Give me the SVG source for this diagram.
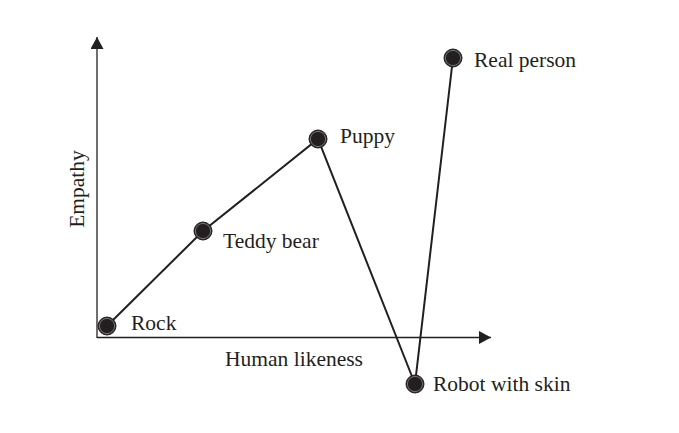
<svg xmlns="http://www.w3.org/2000/svg" width="679" height="433" viewBox="0 0 679 433">
<style>
text{font-family:"Liberation Serif","Times New Roman",serif;font-size:21.5px;fill:#231f20}
.axis{stroke:#231f20;stroke-width:1.3;fill:none}
.edge{stroke:#231f20;stroke-width:2;fill:none}
.dot{fill:#231f20;stroke:#231f20;stroke-width:1}
.ring{fill:none;stroke:#8a8a8a;stroke-width:0.8}
</style>
<defs>
<marker id="ah" viewBox="0 0 12 13" refX="12" refY="6.5" markerWidth="12" markerHeight="13" markerUnits="userSpaceOnUse" orient="auto">
<path d="M0,0 L12,6.5 L0,13 Z" fill="#231f20"/>
</marker>
</defs>
<rect width="679" height="433" fill="#fff"/>
<g id="axes">
<path class="axis" d="M97,338 V37" marker-end="url(#ah)"/>
<path class="axis" d="M97,337.5 H491" marker-end="url(#ah)"/>
<text x="0" y="0" transform="translate(84,189) rotate(-90)" text-anchor="middle">Empathy</text>
<text x="294" y="366" text-anchor="middle">Human likeness</text>
</g>
<g id="connectors">
<polyline class="edge" points="107,326 203,231 318,139 415,384 453,58"/>
</g>
<g id="rock"><circle class="dot" cx="107" cy="326" r="9"/><circle class="ring" cx="107" cy="326" r="7.6"/><text x="131" y="330">Rock</text></g>
<g id="teddy"><circle class="dot" cx="203" cy="231" r="9"/><circle class="ring" cx="203" cy="231" r="7.6"/><text x="223" y="248">Teddy bear</text></g>
<g id="puppy"><circle class="dot" cx="318" cy="139" r="9"/><circle class="ring" cx="318" cy="139" r="7.6"/><text x="340" y="143">Puppy</text></g>
<g id="robot"><circle class="dot" cx="415" cy="384" r="9"/><circle class="ring" cx="415" cy="384" r="7.6"/><text x="433" y="391">Robot with skin</text></g>
<g id="real"><circle class="dot" cx="453" cy="58" r="9"/><circle class="ring" cx="453" cy="58" r="7.6"/><text x="474" y="67">Real person</text></g>
</svg>
